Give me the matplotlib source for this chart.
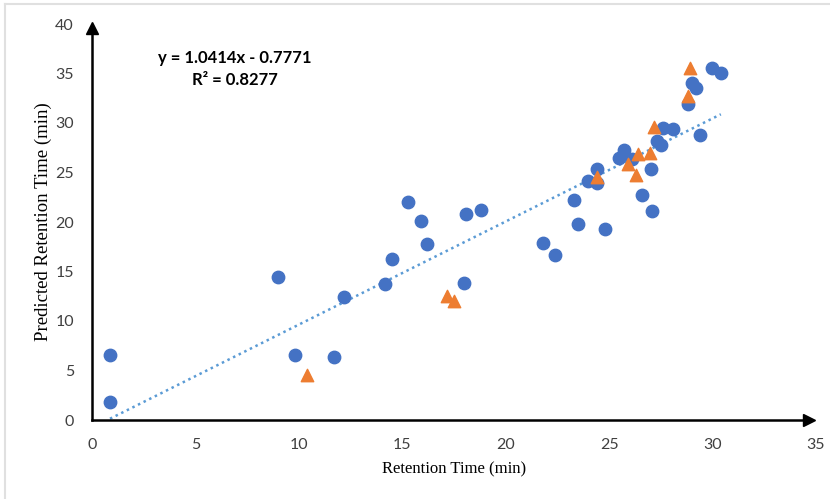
import matplotlib.pyplot as plt
from matplotlib.lines import Line2D

# measured vs predicted retention time (min)
blue_x = [0.87, 0.87, 8.99, 9.8, 11.7, 12.2, 14.15, 14.5, 15.3, 15.9, 16.2, 18.0, 18.1, 18.8,
          21.8, 22.4, 23.3, 23.5, 24.8, 23.96, 24.4, 24.4, 25.5, 25.7, 26.1, 26.6, 27.0, 27.05,
          27.3, 27.5, 27.6, 28.1, 28.8, 29.0, 29.2, 29.4, 29.95, 30.4]
blue_y = [6.57, 1.8, 14.4, 6.6, 6.4, 12.4, 13.7, 16.3, 22.0, 20.1, 17.8, 13.8, 20.8, 21.2,
          17.9, 16.7, 22.2, 19.8, 19.3, 24.1, 25.4, 23.9, 26.5, 27.3, 26.4, 22.7, 25.4, 21.1,
          28.2, 27.8, 29.5, 29.4, 31.9, 34.0, 33.5, 28.8, 35.6, 35.1]
orange_x = [10.4, 17.15, 17.5, 24.4, 25.9, 26.3, 26.4, 26.96, 27.15, 28.8, 28.9]
orange_y = [4.5, 12.5, 12.0, 24.5, 25.9, 24.7, 26.9, 27.0, 29.6, 32.7, 35.6]

slope, intercept = 1.0414, -0.7771
fit_x = [0.87, 30.4]

fig = plt.figure(figsize=(8.3, 4.99), dpi=100)
ax = fig.add_axes([92 / 830, 79 / 499, 724 / 830, 396 / 499])

ax.plot(fit_x, [slope * v + intercept for v in fit_x], linestyle=(0, (1, 1.5)),
        color="#5B9BD5", lw=1.8, zorder=2)
ax.scatter(blue_x, blue_y, s=80, color="#4472C4", zorder=3)
ax.scatter(orange_x, orange_y, s=80, marker="^", color="#ED7D31", zorder=4)

ax.set_xlim(0, 35)
ax.set_ylim(0, 40)
ax.set_xticks(range(0, 36, 5))
ax.set_yticks(range(0, 41, 5))
for s in ["top", "right"]:
    ax.spines[s].set_visible(False)
ax.spines["left"].set_linewidth(1.8)
ax.spines["bottom"].set_linewidth(1.8)
ax.spines["bottom"].set_bounds(0, 34.6)
ax.spines["left"].set_bounds(0, 39.6)
ax.tick_params(length=0, labelsize=11.5, labelcolor="#404040", pad=13)
for lab in ax.get_xticklabels() + ax.get_yticklabels():
    lab.set_family("Lato")

# axis arrows
ax.plot(0.99, 0, marker=">", color="k", ms=9, transform=ax.transAxes, clip_on=False)
ax.plot(0, 0.99, marker="^", color="k", ms=9, transform=ax.transAxes, clip_on=False)

ax.set_xlabel("Retention Time (min)", family="Liberation Serif", fontsize=12, labelpad=7)
ax.set_ylabel("Predicted Retention Time (min)", family="Liberation Serif", fontsize=13.5, labelpad=2)

ax.text(6.9, 36.6, "y = 1.0414x - 0.7771", family="Lato", fontweight="bold", fontsize=12,
        ha="center", va="center")
ax.text(6.9, 34.3, "R² = 0.8277", family="Lato", fontweight="bold", fontsize=12,
        ha="center", va="center")

# light frame of the chart area
fig.add_artist(Line2D([5 / 830, 1], [1 - 4 / 499, 1 - 4 / 499], color="#e0e0e0", lw=1.5))
fig.add_artist(Line2D([5 / 830, 5 / 830], [0, 1 - 4 / 499], color="#e0e0e0", lw=1.5))

fig.savefig("out.png", dpi=100)
